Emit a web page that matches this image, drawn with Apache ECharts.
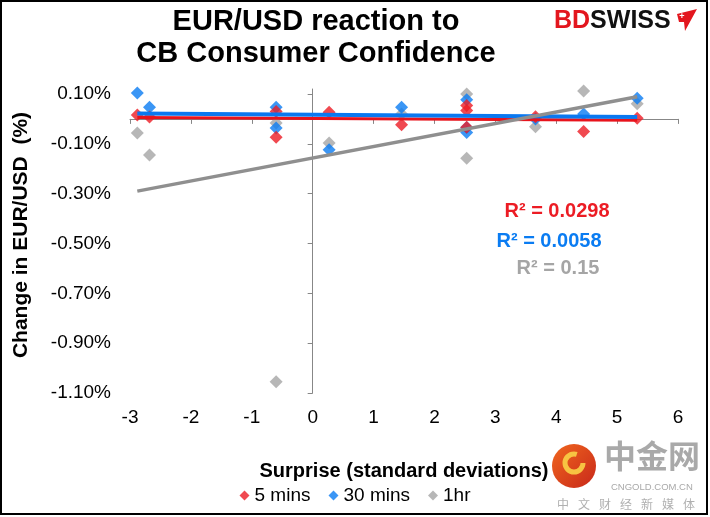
<!DOCTYPE html>
<html>
<head>
<meta charset="utf-8">
<script src="https://cdn.jsdelivr.net/npm/echarts@6/dist/echarts.min.js"></script>
<style>
  html, body { margin: 0; padding: 0; background: #fff; }
  #chart { width: 710px; height: 517px; }
</style>
</head>
<body>
<div id="chart"></div>
<script>
// surprise in standard deviations, shared by all three windows
var surprise = [-2.88, -2.68, -0.60, -0.60, 0.27, 1.46, 2.53, 2.53, 2.53, 3.66, 4.45, 5.33];
// change in EUR/USD (%)
var mins5 = [0.016, 0.008, 0.030, -0.074, 0.027, -0.023, 0.054, 0.034, -0.034, 0.009, -0.051, 0.003];
var mins30 = [0.104, 0.047, 0.047, -0.037, -0.124, 0.047, 0.077, -0.035, -0.055, 0.000, 0.020, 0.083];
var hr1 = [-0.057, -0.145, -0.016, -1.055, -0.097, 0.020, 0.121, 0.100, -0.158, -0.031, 0.112, 0.061];

var seriesNames = ["5 mins", "30 mins", "1hr"];
var rSquared = ["R² = 0.0298", "R² = 0.0058", "R² = 0.15"];
var yTicks = [-1.1, -0.9, -0.7, -0.5, -0.3, -0.1, 0.1];
var footerChars = ["中", "文", "财", "经", "新", "媒", "体"];

var FONT = "Liberation Sans, Arial, sans-serif";
var RED = "#ec1c24", BLUE = "#0a7cf2", GREY = "#a5a5a5";

function points(ys) {
  return surprise.map(function (x, i) { return [x, ys[i]]; });
}

// least squares trend line over the x range of the data (like excel)
function trend(ys) {
  var n = surprise.length, mx = 0, my = 0, sxx = 0, sxy = 0;
  for (var i = 0; i < n; i++) { mx += surprise[i]; my += ys[i]; }
  mx /= n; my /= n;
  for (var j = 0; j < n; j++) {
    sxx += (surprise[j] - mx) * (surprise[j] - mx);
    sxy += (surprise[j] - mx) * (ys[j] - my);
  }
  var b = sxy / sxx, a = my - b * mx;
  var x0 = Math.min.apply(null, surprise), x1 = Math.max.apply(null, surprise);
  return [[x0, a + b * x0], [x1, a + b * x1]];
}

function scatter(name, ys, color, z) {
  return {
    name: name,
    type: "scatter",
    symbol: "diamond",
    symbolSize: 13,
    itemStyle: { color: color },
    data: points(ys),
    z: z
  };
}

function trendLine(name, ys, color, width, z) {
  return {
    name: name + " trend",
    type: "line",
    symbol: "none",
    silent: true,
    lineStyle: { color: color, width: width },
    data: trend(ys),
    z: z
  };
}

var myChart = echarts.init(document.getElementById("chart"));
var axisColor = "#878787";

var graphics = [
  // outer frame
  { type: "rect", shape: { x: 1, y: 1, width: 706, height: 513 }, style: { fill: "none", stroke: "#000", lineWidth: 2 }, silent: true },
  // y axis title
  { type: "text", x: 21, y: 235, rotation: Math.PI / 2, style: { text: "Change in EUR/USD  (%)", fill: "#000", font: "bold 21px " + FONT, textAlign: "center", textVerticalAlign: "middle" } },
  // R squared labels
  { type: "text", x: 557, y: 211, style: { text: rSquared[0], fill: RED, font: "bold 20px " + FONT, textAlign: "center", textVerticalAlign: "middle" } },
  { type: "text", x: 549, y: 241, style: { text: rSquared[1], fill: BLUE, font: "bold 20px " + FONT, textAlign: "center", textVerticalAlign: "middle" } },
  { type: "text", x: 558, y: 268, style: { text: rSquared[2], fill: GREY, font: "bold 20px " + FONT, textAlign: "center", textVerticalAlign: "middle" } },
  // BDSWISS logo
  {
    type: "text", x: 554, y: 21,
    style: {
      text: "{bd|BD}{sw|SWISS}",
      textVerticalAlign: "middle",
      rich: {
        bd: { fill: "#e3161e", font: "bold 25px " + FONT },
        sw: { fill: "#111", font: "bold 25px " + FONT }
      }
    }
  },
  { type: "polygon", shape: { points: [[677, 14], [697, 9], [685, 31], [684, 22], [679, 22]] }, style: { fill: "#e3161e" } },
  { type: "text", x: 682, y: 17, style: { text: "+", fill: "#fff", font: "bold 9px " + FONT, textAlign: "center", textVerticalAlign: "middle" } },
  // cngold watermark
  {
    type: "circle", shape: { cx: 574, cy: 466, r: 22 },
    style: { fill: new echarts.graphic.LinearGradient(0, 0, 1, 1, [{ offset: 0, color: "#f0661e" }, { offset: 1, color: "#c8281a" }]) }
  },
  { type: "arc", shape: { cx: 574, cy: 463, r: 9, startAngle: 0, endAngle: Math.PI * 1.6 }, style: { stroke: "#f7c342", lineWidth: 5, fill: "none" } },
  { type: "text", x: 604, y: 456, style: { text: "中金网", fill: "#a9a9a9", font: "bold 32px 'Noto Sans CJK SC'", textVerticalAlign: "middle" } },
  { type: "text", x: 611, y: 487, style: { text: "CNGOLD.COM.CN", fill: "#a9a9a9", font: "9.5px " + FONT, textVerticalAlign: "middle" } }
];
footerChars.forEach(function (c, i) {
  graphics.push({ type: "text", x: 557 + i * 21, y: 504, style: { text: c, fill: "#b0b0b0", font: "12px 'Noto Sans CJK SC'", textVerticalAlign: "middle" } });
});

var option = {
  animation: false,
  backgroundColor: "#fff",
  textStyle: { fontFamily: FONT },
  title: {
    text: "EUR/USD reaction to\nCB Consumer Confidence",
    left: 311,
    textAlign: "center",
    top: 1,
    textStyle: { fontSize: 29, fontWeight: "bold", color: "#000", lineHeight: 32, fontFamily: FONT }
  },
  legend: {
    data: seriesNames,
    bottom: 7,
    left: "center",
    icon: "diamond",
    itemWidth: 10,
    itemHeight: 10,
    itemGap: 18,
    textStyle: { fontSize: 19, color: "#000", fontFamily: FONT }
  },
  grid: { left: 130, right: 32, top: 89, bottom: 124 },
  xAxis: [
    {
      type: "value",
      min: -3,
      max: 6,
      interval: 1,
      position: "bottom",
      axisLine: { onZero: true, lineStyle: { color: axisColor, width: 1 } },
      axisTick: { show: true, length: 5, lineStyle: { color: axisColor } },
      axisLabel: { show: false },
      splitLine: { show: false }
    },
    {
      type: "value",
      min: -3,
      max: 6,
      interval: 1,
      position: "bottom",
      axisLine: { show: false, onZero: false },
      axisTick: { show: false },
      axisLabel: { show: true, margin: 15, fontSize: 19, color: "#000", fontFamily: FONT },
      splitLine: { show: false },
      name: "Surprise (standard deviations)",
      nameLocation: "middle",
      nameGap: 68,
      nameTextStyle: { fontSize: 20, fontWeight: "bold", color: "#000", fontFamily: FONT }
    }
  ],
  yAxis: [
    {
      type: "value",
      min: -1.1,
      max: 0.12,
      axisLine: { show: true, onZero: true, lineStyle: { color: axisColor, width: 1 } },
      axisTick: { show: true, length: 5, customValues: yTicks, lineStyle: { color: axisColor } },
      axisLabel: { show: false },
      splitLine: { show: false }
    },
    {
      type: "value",
      min: -1.1,
      max: 0.12,
      position: "left",
      axisLine: { show: false, onZero: false },
      axisTick: { show: false },
      axisLabel: {
        show: true,
        margin: 19,
        customValues: yTicks,
        fontSize: 19,
        color: "#000",
        fontFamily: FONT,
        formatter: function (v) { return v.toFixed(2) + "%"; }
      },
      splitLine: { show: false }
    }
  ],
  series: [
    scatter(seriesNames[0], mins5, RED, 4),
    scatter(seriesNames[1], mins30, BLUE, 3),
    scatter(seriesNames[2], hr1, GREY, 2),
    trendLine(seriesNames[0], mins5, "#e8131c", 3, 5),
    trendLine(seriesNames[1], mins30, "#0a78f0", 4, 6),
    trendLine(seriesNames[2], hr1, "#8f8f8f", 3.5, 7)
  ],
  graphic: graphics
};

myChart.setOption(option);
</script>
</body>
</html>
